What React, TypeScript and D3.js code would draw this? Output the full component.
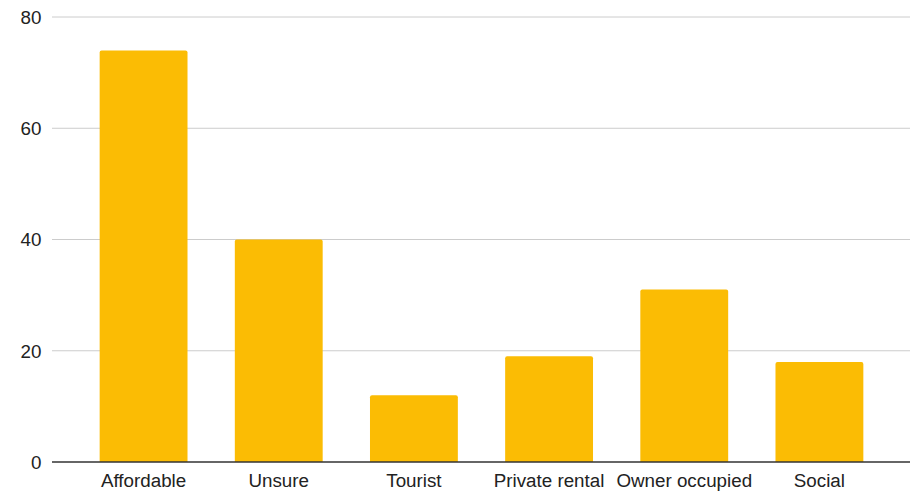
import React from "react";
import * as d3 from "d3";

const categories = ["Affordable", "Unsure", "Tourist", "Private rental", "Owner occupied", "Social"];
const values = [74, 40, 12, 19, 31, 18];
const yTicks = [0, 20, 40, 60, 80];

const W = 914;
const H = 491;
const gridLeft = 52;
const gridRight = 910;
const yTop = 17;
const yBottom = 462;

export default function App() {
  const x = d3
    .scaleBand<string>()
    .domain(categories)
    .range([76, 887])
    .paddingInner(0.35)
    .paddingOuter(0.175);
  const y = d3.scaleLinear().domain([0, 80]).range([yBottom, yTop]);
  const font = "Arial, 'Liberation Sans', sans-serif";
  return (
    <svg width={W} height={H} style={{ position: "absolute", left: 0, top: 0 }}>
      <rect width={W} height={H} fill="#fff" />
      {yTicks.map((t) =>
        t === 0 ? null : (
          <line key={t} x1={gridLeft} x2={gridRight} y1={y(t)} y2={y(t)} stroke="#cccccc" strokeWidth={1} />
        )
      )}
      {yTicks.map((t) => (
        <text
          key={"l" + t}
          x={41.5}
          y={y(t)}
          dy="0.36em"
          textAnchor="end"
          fontFamily={font}
          fontSize={18.8}
          fill="#222"
        >
          {t}
        </text>
      ))}
      {categories.map((c, i) => (
        <path
          key={c}
          d={(() => {
            const x0 = x(c)!;
            const w = x.bandwidth();
            const y0 = y(values[i]);
            const r = 2;
            return `M${x0},${yBottom}V${y0 + r}Q${x0},${y0} ${x0 + r},${y0}H${x0 + w - r}Q${x0 + w},${y0} ${x0 + w},${y0 + r}V${yBottom}Z`;
          })()}
          fill="#FBBC04"
        />
      ))}
      <line x1={gridLeft} x2={gridRight} y1={yBottom} y2={yBottom} stroke="#333" strokeWidth={1.3} />
      {categories.map((c) => (
        <text
          key={"c" + c}
          x={x(c)! + x.bandwidth() / 2}
          y={487}
          textAnchor="middle"
          fontFamily={font}
          fontSize={18.8}
          fill="#222"
        >
          {c}
        </text>
      ))}
    </svg>
  );
}
